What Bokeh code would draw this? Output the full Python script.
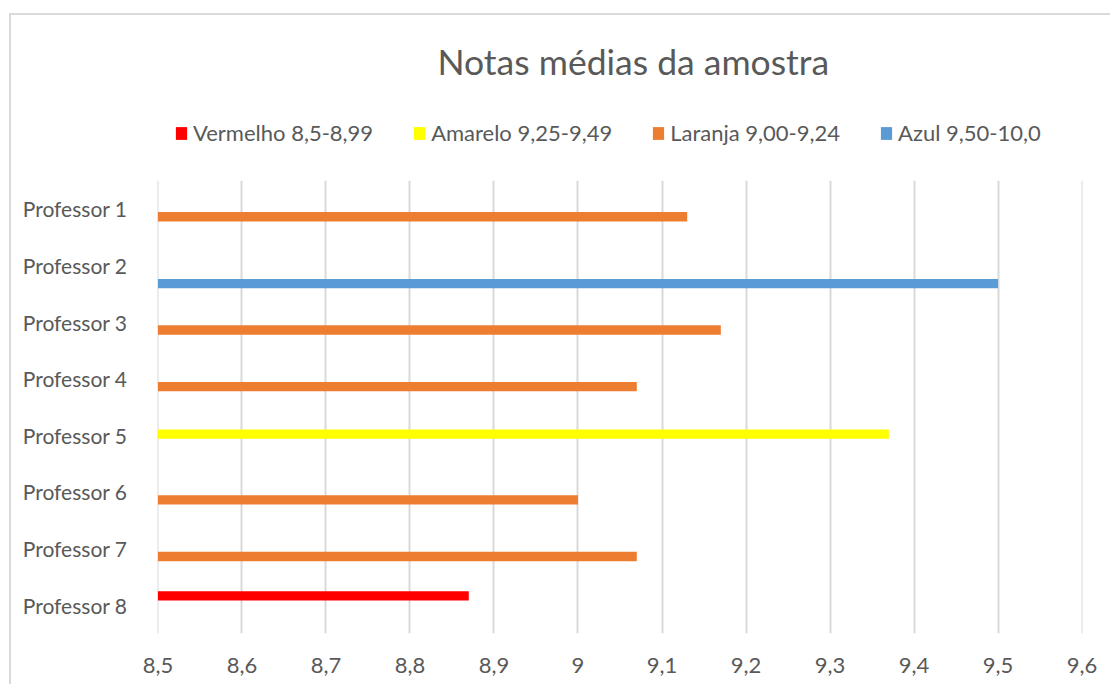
from bokeh.plotting import figure
from bokeh.layouts import column
from bokeh.models import ColumnDataSource, Legend, LegendItem, FixedTicker, FactorRange, Range1d
from bokeh.transform import dodge
from bokeh.embed import file_html
from bokeh.resources import INLINE

# ---- data ----
professores = ["Professor 1", "Professor 2", "Professor 3", "Professor 4",
               "Professor 5", "Professor 6", "Professor 7", "Professor 8"]
notas = [9.13, 9.50, 9.17, 9.07, 9.37, 9.00, 9.07, 8.87]
faixas = ["Laranja", "Azul", "Laranja", "Laranja", "Amarelo", "Laranja", "Laranja", "Vermelho"]

series_keys = ["Vermelho", "Amarelo", "Laranja", "Azul"]
series_labels = ["Vermelho 8,5-8,99", "Amarelo 9,25-9,49", "Laranja 9,00-9,24", "Azul 9,50-10,0"]
series_colors = ["#FF0000", "#FFFF00", "#ED7D31", "#5B9BD5"]
series_offsets = [0.165, 0.02, -0.14, -0.32]

x_ticks = [8.5, 8.6, 8.7, 8.8, 8.9, 9.0, 9.1, 9.2, 9.3, 9.4, 9.5, 9.6]
x_tick_labels = ["8,5", "8,6", "8,7", "8,8", "8,9", "9", "9,1", "9,2", "9,3", "9,4", "9,5", "9,6"]

FONT = "Lato"
GREY = "#595959"
W = 1099
HEAD_H = 165
MAIN_H = 504
LEFT = 146

# ---- header: title + legend ----
head = figure(width=W, height=HEAD_H, output_backend="svg", toolbar_location=None,
              x_range=Range1d(0, 1), y_range=Range1d(0, 1),
              x_axis_type=None, y_axis_type=None,
              min_border_left=LEFT, min_border_right=28, min_border_bottom=0, min_border_top=72)
head.grid.visible = False
head.outline_line_color = None
head.title.text = "Notas médias da amostra"
head.title.align = "left"
head.title.offset = 280
head.title.text_font = FONT
head.title.text_font_size = "35.5px"
head.title.text_font_style = "normal"
head.title.text_color = GREY
head.title.standoff = 10

# ---- main chart ----
p = figure(width=W, height=MAIN_H, output_backend="svg", toolbar_location=None,
           y_range=FactorRange(*reversed(professores), range_padding=0, factor_padding=0),
           x_range=Range1d(8.4995, 9.6005),
           min_border_left=LEFT, min_border_right=28, min_border_bottom=51, min_border_top=0)

items = []
for key, label, color, off in zip(series_keys, series_labels, series_colors, series_offsets):
    ys = [pr for pr, f in zip(professores, faixas) if f == key]
    xs = [n for n, f in zip(notas, faixas) if f == key]
    src = ColumnDataSource(dict(y=ys, x=xs))
    p.hbar(y=dodge("y", off, range=p.y_range), left=8.5, right="x", height=0.165,
           source=src, fill_color=color, line_color=None)
    # legend swatch renderer in header (one hidden zero-width bar, outside the view)
    hr = head.hbar(y=[-1], left=[0], right=[0], height=0.1, fill_color=color, line_color=None)
    items.append(LegendItem(label=label, renderers=[hr]))

legend = Legend(items=items, orientation="horizontal", location=(17, 34),
                label_text_font=FONT, label_text_font_size="22px", label_text_color=GREY,
                glyph_width=14, glyph_height=16, label_standoff=5, spacing=39,
                label_height=20, border_line_color=None, background_fill_alpha=0,
                margin=0, padding=0)
head.add_layout(legend, "center")

p.xaxis.ticker = FixedTicker(ticks=x_ticks)
p.xaxis.major_label_overrides = {t: l for t, l in zip(x_ticks, x_tick_labels)}
p.xaxis.major_label_text_font = FONT
p.xaxis.major_label_text_font_size = "22px"
p.xaxis.major_label_text_color = GREY
p.xaxis.axis_line_color = None
p.xaxis.major_tick_line_color = None
p.xaxis.minor_tick_line_color = None
p.xaxis.major_label_standoff = 18

p.yaxis.major_label_text_font = FONT
p.yaxis.major_label_text_font_size = "21px"
p.yaxis.major_label_text_color = GREY
p.yaxis.axis_line_color = None
p.yaxis.major_tick_line_color = None
p.yaxis.minor_tick_line_color = None
p.yaxis.major_label_standoff = 24

p.xgrid.grid_line_color = "#D9D9D9"
p.xgrid.grid_line_width = 2
p.ygrid.grid_line_color = None
p.outline_line_color = None

layout = column(head, p, spacing=0,
                styles={"margin-left": "9px", "margin-top": "13px",
                        "border-top": "2px solid #D9D9D9", "border-left": "2px solid #D9D9D9"})
open("out.html", "w").write(file_html(layout, INLINE))
